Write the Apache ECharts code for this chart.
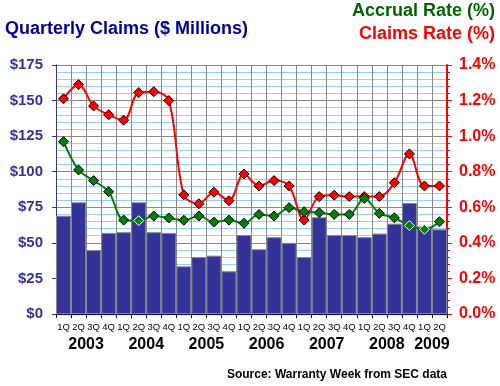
<!DOCTYPE html>
<html>
<head>
<meta charset="utf-8">
<script src="https://cdn.jsdelivr.net/npm/echarts@6/dist/echarts.min.js"></script>
<style>html,body{margin:0;padding:0;background:#fff;}#c{width:500px;height:386px;}</style>
</head>
<body>
<div id="c"></div>
<script>
var quarters = ['1Q','2Q','3Q','4Q','1Q','2Q','3Q','4Q','1Q','2Q','3Q','4Q','1Q','2Q','3Q','4Q','1Q','2Q','3Q','4Q','1Q','2Q','3Q','4Q','1Q','2Q'];
var yearLabels = ['2003','2004','2005','2006','2007','2008','2009'];
var yearPositions = [2, 6, 10, 14, 18, 22, 25];
var claims = [69, 78.5, 45, 57, 57.5, 78.5, 57.5, 57, 33.5, 40, 41, 30, 55.5, 45.5, 54, 50, 40, 68, 55.5, 55.5, 54, 56.5, 63.5, 78, 61.5, 59.5];
var claimsRate = [1.21, 1.29, 1.17, 1.12, 1.09, 1.245, 1.25, 1.2, 0.67, 0.62, 0.685, 0.637, 0.787, 0.72, 0.75, 0.72, 0.528, 0.66, 0.668, 0.66, 0.66, 0.66, 0.738, 0.90, 0.72, 0.72];
var accrualRate = [0.969, 0.81, 0.75, 0.688, 0.528, 0.525, 0.551, 0.54, 0.527, 0.551, 0.517, 0.528, 0.51, 0.56, 0.551, 0.598, 0.575, 0.57, 0.56, 0.56, 0.65, 0.566, 0.541, 0.497, 0.476, 0.519];
var leftTicks = {min: 0, max: 175, step: 25};
var rightTicks = {min: 0, max: 1.4, step: 0.2};

var FONT = 'Liberation Sans, Arial, sans-serif';
var ratio = leftTicks.max / rightTicks.max;
function rateData(arr) {
  return arr.map(function (v, i) {
    var inside = v * ratio < claims[i];
    return {value: v, itemStyle: {borderColor: inside ? '#ffffff' : '#000000'}};
  });
}
var yearMap = {};
yearPositions.forEach(function (p, i) { yearMap[p] = yearLabels[i]; });

var chart = echarts.init(document.getElementById('c'));
chart.setOption({
  animation: false,
  backgroundColor: '#ffffff',
  grid: {left: 56, right: 53, top: 65, bottom: 72, containLabel: false},
  graphic: [
    {type: 'text', x: 5, y: 29, style: {text: 'Quarterly Claims ($ Millions)', fill: '#000099', font: 'bold 18px ' + FONT, textVerticalAlign: 'middle'}},
    {type: 'text', x: 495, y: 11, style: {text: 'Accrual Rate (%)', fill: '#006600', font: 'bold 18px ' + FONT, textAlign: 'right', textVerticalAlign: 'middle'}},
    {type: 'text', x: 495, y: 34, style: {text: 'Claims Rate (%)', fill: '#ff0000', font: 'bold 18px ' + FONT, textAlign: 'right', textVerticalAlign: 'middle'}},
    {type: 'text', x: 447, y: 375, style: {text: 'Source: Warranty Week from SEC data', fill: '#000000', font: 'bold 12px ' + FONT, textAlign: 'right', textVerticalAlign: 'middle'}}
  ],
  xAxis: [
    {
      type: 'category', data: quarters, boundaryGap: true, position: 'bottom',
      axisLine: {show: true, lineStyle: {color: '#000066', width: 1}},
      axisTick: {show: true, length: 4, lineStyle: {color: '#000000'}},
      axisLabel: {interval: 0, margin: 8, color: '#000000', fontSize: 9.5, fontFamily: FONT},
      splitLine: {show: true, lineStyle: {color: '#888888', width: 1}}
    },
    {
      type: 'value', min: 0, max: 26, interval: 1, position: 'bottom',
      axisLine: {show: false}, axisTick: {show: false}, splitLine: {show: false},
      axisLabel: {margin: 23, color: '#000000', fontSize: 16, fontWeight: 'bold', fontFamily: FONT,
        showMinLabel: true, showMaxLabel: true,
        formatter: function (v) { return yearMap[v] || ''; }}
    }
  ],
  yAxis: [
    {
      type: 'value', min: leftTicks.min, max: leftTicks.max, interval: leftTicks.step, position: 'left',
      axisLine: {show: true, lineStyle: {color: '#333399', width: 1}},
      axisTick: {show: true, length: 4, lineStyle: {color: '#333399'}},
      axisLabel: {margin: 13, color: '#333399', fontSize: 15, fontWeight: 'bold', fontFamily: FONT,
        formatter: function (v) { return '$' + v; }},
      splitLine: {show: true, lineStyle: {color: '#888888', width: 1}},
      minorTick: {show: false, splitNumber: 5},
      minorSplitLine: {show: true, lineStyle: {color: '#99ccff', width: 1}}
    },
    {
      type: 'value', min: rightTicks.min, max: rightTicks.max, interval: rightTicks.step, position: 'right',
      axisLine: {show: true, lineStyle: {color: '#ff0000', width: 2}},
      axisTick: {show: true, length: 5, lineStyle: {color: '#ff0000', width: 1}},
      minorTick: {show: true, splitNumber: 5, length: 3, lineStyle: {color: '#ff0000'}},
      axisLabel: {margin: 12, color: '#ff0000', fontSize: 16, fontWeight: 'bold', fontFamily: FONT,
        formatter: function (v) { return v.toFixed(1) + '%'; }},
      splitLine: {show: false}
    }
  ],
  series: [
    {
      type: 'bar', data: claims, xAxisIndex: 0, yAxisIndex: 0, barCategoryGap: '0%',
      itemStyle: {color: '#333399', borderColor: '#888888', borderWidth: 1}
    },
    {
      type: 'line', data: rateData(claimsRate), xAxisIndex: 0, yAxisIndex: 1, smooth: 0.35,
      symbol: 'diamond', symbolSize: 10,
      lineStyle: {color: '#ff0000', width: 2},
      itemStyle: {color: '#ff0000', borderColor: '#000000', borderWidth: 1}
    },
    {
      type: 'line', data: rateData(accrualRate), xAxisIndex: 0, yAxisIndex: 1, smooth: 0.35,
      symbol: 'diamond', symbolSize: 10,
      lineStyle: {color: '#008000', width: 2},
      itemStyle: {color: '#008000', borderColor: '#000000', borderWidth: 1}
    }
  ]
});
</script>
</body>
</html>
